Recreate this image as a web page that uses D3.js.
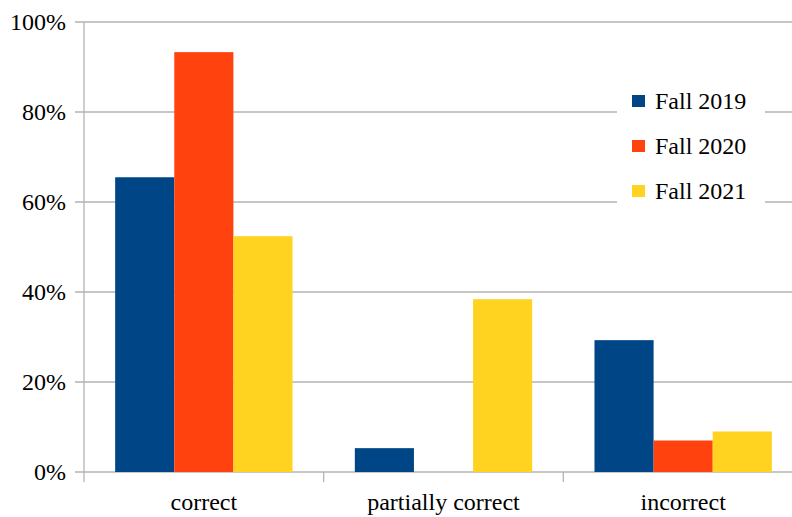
<!DOCTYPE html>
<html>
<head>
<meta charset="utf-8">
<script src="https://cdn.jsdelivr.net/npm/d3@7"></script>
<style>
  body { margin: 0; background: #fff; }
  text { font-family: "Liberation Serif", "Times New Roman", serif; fill: #000; }
</style>
</head>
<body>
<script>
var categories = ["correct", "partially correct", "incorrect"];
var seriesNames = ["Fall 2019", "Fall 2020", "Fall 2021"];
var fall2019 = [0.655, 0.053, 0.293];
var fall2020 = [0.933, 0, 0.070];
var fall2021 = [0.524, 0.384, 0.090];
var yTicks = [0, 0.2, 0.4, 0.6, 0.8, 1.0];

var seriesValues = [fall2019, fall2020, fall2021];
var color = d3.scaleOrdinal()
    .domain(seriesNames)
    .range(["#004586", "#ff420e", "#ffd320"]);

var margin = {top: 22, left: 84},
    width = 719,
    height = 450;

var svg = d3.select("body").append("svg")
    .attr("width", 792)
    .attr("height", 517)
  .append("g")
    .attr("transform", "translate(" + margin.left + "," + margin.top + ")");

var x0 = d3.scaleBand()
    .domain(categories)
    .range([0, width])
    .paddingInner(0.26)
    .paddingOuter(0.13);

var x1 = d3.scaleBand()
    .domain(seriesNames)
    .range([0, x0.bandwidth()]);

var y = d3.scaleLinear()
    .domain([0, 1])
    .range([height, 0]);

// gridlines
svg.append("g")
  .selectAll("line")
  .data(yTicks)
  .enter().append("line")
    .attr("x1", -9)
    .attr("x2", width)
    .attr("y1", d => y(d))
    .attr("y2", d => y(d))
    .style("stroke", "#b3b3b3")
    .style("stroke-width", 1.3);

// y tick labels
svg.append("g")
  .selectAll("text")
  .data(yTicks)
  .enter().append("text")
    .attr("x", -18)
    .attr("y", d => y(d))
    .attr("dy", "0.35em")
    .style("text-anchor", "end")
    .style("font-size", "24px")
    .text(d => d3.format(".0%")(d));

// y axis line
svg.append("line")
    .attr("x1", 0).attr("x2", 0)
    .attr("y1", 0).attr("y2", height + 10)
    .style("stroke", "#b3b3b3")
    .style("stroke-width", 1.3);

// category separators
var step = width / categories.length;
svg.append("g")
  .selectAll("line")
  .data(d3.range(1, categories.length + 1))
  .enter().append("line")
    .attr("x1", d => d * step)
    .attr("x2", d => d * step)
    .attr("y1", height)
    .attr("y2", height + 10)
    .style("stroke", "#b3b3b3")
    .style("stroke-width", 1.3);

// bars
var slice = svg.selectAll(".slice")
    .data(categories)
  .enter().append("g")
    .attr("class", "slice")
    .attr("transform", d => "translate(" + x0(d) + ",0)");

slice.selectAll("rect")
    .data((c, i) => seriesNames.map((s, j) => ({ series: s, value: seriesValues[j][i] })))
  .enter().append("rect")
    .attr("x", d => x1(d.series))
    .attr("width", x1.bandwidth())
    .attr("y", d => y(d.value))
    .attr("height", d => height - y(d.value))
    .style("fill", d => color(d.series));

// category labels
svg.append("g")
  .selectAll("text")
  .data(categories)
  .enter().append("text")
    .attr("x", d => (categories.indexOf(d) + 0.5) * step)
    .attr("y", height + 38)
    .style("text-anchor", "middle")
    .style("font-size", "24px")
    .text(d => d);

// legend
var lg = svg.append("g")
    .attr("transform", "translate(533,0)");

lg.append("rect")
    .attr("x", 0)
    .attr("y", 50)
    .attr("width", 148)
    .attr("height", 160)
    .style("fill", "#fff");

var legend = lg.selectAll(".legend")
    .data(seriesNames)
  .enter().append("g")
    .attr("class", "legend")
    .attr("transform", (d, i) => "translate(0," + (79 + i * 45) + ")");

legend.append("rect")
    .attr("x", 15)
    .attr("y", -6)
    .attr("width", 13)
    .attr("height", 12)
    .style("fill", d => color(d));

legend.append("text")
    .attr("x", 38)
    .attr("y", 0)
    .attr("dy", "0.33em")
    .style("font-size", "24px")
    .text(d => d);
</script>
</body>
</html>
